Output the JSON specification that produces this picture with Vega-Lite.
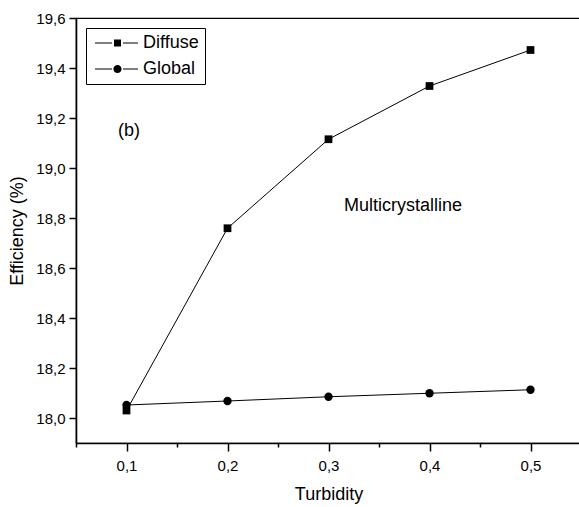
{
  "$schema": "https://vega.github.io/schema/vega-lite/v6.json",
  "width": 505,
  "height": 425,
  "autosize": "none",
  "padding": {"left": 76, "top": 18, "right": 0, "bottom": 64},
  "background": "white",
  "config": {
    "font": "Liberation Sans",
    "view": {"stroke": "black", "strokeWidth": 1.2},
    "axis": {
      "domainColor": "black",
      "domainWidth": 1.6,
      "tickColor": "black",
      "tickWidth": 1.5,
      "labelColor": "black",
      "labelFontSize": 15,
      "labelFont": "Liberation Sans",
      "titleColor": "black",
      "titleFont": "Liberation Sans",
      "titleFontSize": 18,
      "titleFontWeight": "normal",
      "grid": false,
      "labelOverlap": false,
      "labelFlush": false
    }
  },
  "datasets": {
    "main": [
      {"t": 0.1, "series": "Diffuse", "eff": 18.03},
      {"t": 0.2, "series": "Diffuse", "eff": 18.759},
      {"t": 0.3, "series": "Diffuse", "eff": 19.115},
      {"t": 0.4, "series": "Diffuse", "eff": 19.328},
      {"t": 0.5, "series": "Diffuse", "eff": 19.472},
      {"t": 0.1, "series": "Global", "eff": 18.052},
      {"t": 0.2, "series": "Global", "eff": 18.068},
      {"t": 0.3, "series": "Global", "eff": 18.085},
      {"t": 0.4, "series": "Global", "eff": 18.099},
      {"t": 0.5, "series": "Global", "eff": 18.113}
    ],
    "notes": [
      {"t": 0.0916, "eff": 19.148, "label": "(b)"},
      {"t": 0.3153, "eff": 18.848, "label": "Multicrystalline"}
    ]
  },
  "layer": [
    {
      "data": {"name": "main"},
      "mark": {"type": "line", "color": "black", "strokeWidth": 1},
      "encoding": {
        "x": {
          "field": "t", "type": "quantitative",
          "scale": {"domain": [0.05, 0.55], "nice": false, "zero": false},
          "axis": {
            "title": "Turbidity",
            "values": [0.05, 0.1, 0.15, 0.2, 0.25, 0.3, 0.35, 0.4, 0.45, 0.5, 0.55],
            "tickSize": {"condition": {"test": "abs(round(datum.value*10)-datum.value*10)<0.001", "value": 8}, "value": 4},
            "labelExpr": "abs(round(datum.value*10)-datum.value*10)<0.001 ? replace(format(datum.value,'.1f'),'.',',') : ''",
            "labelPadding": 7,
            "titlePadding": 12
          }
        },
        "y": {
          "field": "eff", "type": "quantitative",
          "scale": {"domain": [17.9, 19.6], "nice": false, "zero": false},
          "axis": {
            "title": "Efficiency (%)",
            "values": [18.0, 18.1, 18.2, 18.3, 18.4, 18.5, 18.6, 18.7, 18.8, 18.9, 19.0, 19.1, 19.2, 19.3, 19.4, 19.5, 19.6],
            "tickSize": {"condition": {"test": "abs(round(datum.value*5)-datum.value*5)<0.001", "value": 7}, "value": 4},
            "labelExpr": "abs(round(datum.value*5)-datum.value*5)<0.001 ? replace(format(datum.value,'.1f'),'.',',') : ''",
            "labelPadding": 4,
            "titlePadding": 9
          }
        },
        "detail": {"field": "series"}
      }
    },
    {
      "data": {"name": "main"},
      "transform": [{"filter": "datum.series === 'Diffuse'"}],
      "mark": {"type": "point", "filled": true, "color": "black", "opacity": 1, "size": 60, "shape": "square"},
      "encoding": {
        "x": {"field": "t", "type": "quantitative"},
        "y": {"field": "eff", "type": "quantitative"}
      }
    },
    {
      "data": {"name": "main"},
      "transform": [{"filter": "datum.series === 'Global'"}],
      "mark": {"type": "point", "filled": true, "color": "black", "opacity": 1, "size": 70, "shape": "circle"},
      "encoding": {
        "x": {"field": "t", "type": "quantitative"},
        "y": {"field": "eff", "type": "quantitative"}
      }
    },
    {
      "data": {"name": "main"},
      "mark": {"type": "point", "filled": true, "color": "black", "opacity": 0, "size": 324},
      "encoding": {
        "x": {"field": "t", "type": "quantitative"},
        "y": {"field": "eff", "type": "quantitative"},
        "shape": {
          "field": "series", "type": "nominal",
          "scale": {
            "domain": ["Diffuse", "Global"],
            "range": [
              "M-0.667,-0.056H1.222V0.056H-0.667Z M2.444,-0.056H4.111V0.056H2.444Z M1.444,-0.389H2.222V0.389H1.444Z",
              "M-0.667,-0.056H1.222V0.056H-0.667Z M2.444,-0.056H4.111V0.056H2.444Z M1.378,0A0.455,0.455 0 1,1 2.288,0A0.455,0.455 0 1,1 1.378,0Z"
            ]
          },
          "legend": {
            "title": null,
            "orient": "top-left",
            "offset": 10,
            "strokeColor": "black",
            "padding": 6,
            "rowPadding": 8,
            "labelFontSize": 18,
            "labelFont": "Liberation Sans",
            "labelColor": "black",
            "labelOffset": 33,
            "symbolSize": 324,
            "symbolStrokeWidth": 0,
            "symbolOpacity": 1,
            "symbolFillColor": "black"
          }
        }
      }
    },
    {
      "data": {"name": "notes"},
      "mark": {"type": "text", "align": "left", "baseline": "middle", "fontSize": 18, "font": "Liberation Sans", "color": "black"},
      "encoding": {
        "x": {"field": "t", "type": "quantitative"},
        "y": {"field": "eff", "type": "quantitative"},
        "text": {"field": "label"}
      }
    }
  ]
}
